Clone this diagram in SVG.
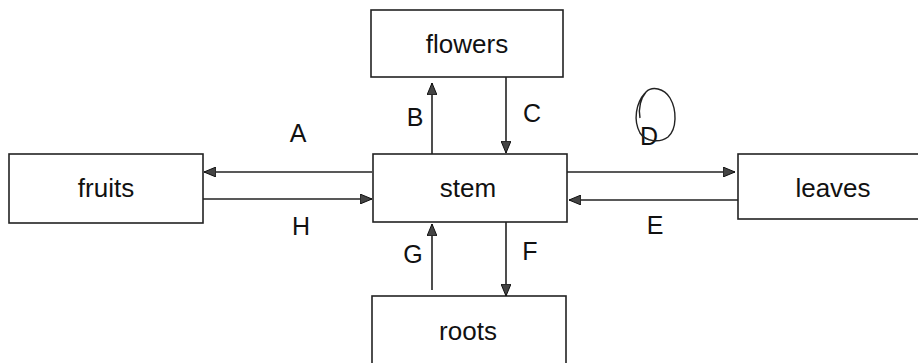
<svg xmlns="http://www.w3.org/2000/svg" width="918" height="363" viewBox="0 0 918 363">
<style>
.box{fill:#fff;stroke:#222;stroke-width:1.6}
.t{font-family:"Liberation Sans",Arial,sans-serif;font-size:26px;fill:#111;text-anchor:middle}
.l{font-family:"Liberation Sans",Arial,sans-serif;font-size:25px;fill:#111;text-anchor:middle}
.c{stroke:#222;stroke-width:1.6;fill:none}
</style>
<defs>
<marker id="ah" viewBox="0 0 12 10" refX="12" refY="5" markerWidth="12" markerHeight="10" markerUnits="userSpaceOnUse" orient="auto">
<path d="M0,0 L12,5 L0,10 Z" fill="#444" stroke="#111" stroke-width="1"/>
</marker>
</defs>
<rect width="918" height="363" fill="#fff"/>
<g id="flowers"><rect class="box" x="371" y="10" width="192" height="67"/><text class="t" x="467" y="53">flowers</text></g>
<g id="fruits"><rect class="box" x="9" y="154" width="194" height="69"/><text class="t" x="106" y="197">fruits</text></g>
<g id="stem"><rect class="box" x="373" y="154" width="194" height="68"/><text class="t" x="468" y="197">stem</text></g>
<g id="leaves"><rect class="box" x="738" y="154" width="200" height="65"/><text class="t" x="833" y="197">leaves</text></g>
<g id="roots"><rect class="box" x="372" y="296" width="194" height="80"/><text class="t" x="468" y="340">roots</text></g>
<g id="connectors">
<line class="c" x1="372" y1="172" x2="204" y2="172" marker-end="url(#ah)"/>
<line class="c" x1="203" y1="199" x2="372" y2="199" marker-end="url(#ah)"/>
<line class="c" x1="432" y1="154" x2="432" y2="83" marker-end="url(#ah)"/>
<line class="c" x1="506" y1="77" x2="506" y2="153" marker-end="url(#ah)"/>
<line class="c" x1="567" y1="172" x2="735" y2="172" marker-end="url(#ah)"/>
<line class="c" x1="738" y1="200" x2="569" y2="200" marker-end="url(#ah)"/>
<line class="c" x1="432" y1="290" x2="432" y2="224" marker-end="url(#ah)"/>
<line class="c" x1="506" y1="222" x2="506" y2="296" marker-end="url(#ah)"/>
<text class="l" x="298" y="142">A</text>
<text class="l" x="301" y="235">H</text>
<text class="l" x="415" y="126">B</text>
<text class="l" x="532" y="122">C</text>
<text class="l" x="413" y="263">G</text>
<text class="l" x="530" y="260">F</text>
<text class="l" x="649" y="145">D</text>
<text class="l" x="655" y="234">E</text>
<path d="M645,93 C636,103 633,120 640,133 C646,142 660,143 668,137 C677,129 677,110 670,98 C664,88 652,86 646,92 C641,98 638,108 640,118" fill="none" stroke="#222" stroke-width="1.4"/>
</g>
</svg>
